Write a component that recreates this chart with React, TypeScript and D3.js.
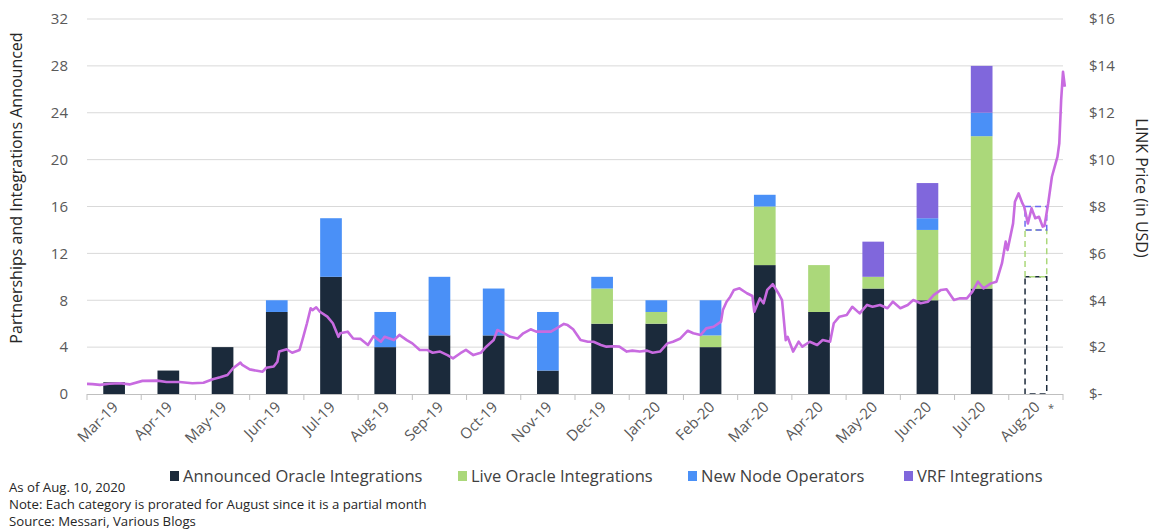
import React, {useRef, useEffect} from 'react'
import * as d3 from 'd3'

const months = [
  'Mar-19', 'Apr-19', 'May-19', 'Jun-19', 'Jul-19', 'Aug-19', 'Sep-19', 'Oct-19', 'Nov-19',
  'Dec-19', 'Jan-20', 'Feb-20', 'Mar-20', 'Apr-20', 'May-20', 'Jun-20', 'Jul-20', 'Aug-20'
]
const announced = [1, 2, 4, 7, 10, 4, 5, 5, 2, 6, 6, 4, 11, 7, 9, 8, 9, 10]
const liveOracle = [0, 0, 0, 0, 0, 0, 0, 0, 0, 3, 1, 1, 5, 4, 1, 6, 13, 4]
const nodeOperators = [0, 0, 0, 1, 5, 3, 5, 4, 5, 1, 1, 3, 1, 0, 0, 1, 2, 2]
const vrfIntegrations = [0, 0, 0, 0, 0, 0, 0, 0, 0, 0, 0, 0, 0, 0, 3, 3, 4, 0]
const projectedMonth = 'Aug-20'

const leftTicks = [0, 4, 8, 12, 16, 20, 24, 28, 32]
const rightTicks = [0, 2, 4, 6, 8, 10, 12, 14, 16]

// LINK price, days since 1 Mar 2019 -> USD
const priceDay = [
  0, 3, 7, 12, 18, 23, 30, 38, 43, 50, 57, 63, 68, 72, 76, 79, 83, 84, 88, 92, 95, 97, 101, 103,
  104, 108, 111, 115, 117, 119, 121, 122, 124, 126, 130, 133, 136, 137, 141, 144, 148, 152, 155,
  159, 161, 166, 169, 173, 176, 180, 184, 187, 191, 195, 198, 202, 205, 209, 213, 216, 220, 222,
  225, 229, 233, 236, 240, 243, 247, 251, 254, 258, 260, 263, 267, 271, 274, 278, 281, 285, 288,
  292, 295, 299, 303, 306, 310, 314, 317, 321, 325, 328, 332, 335, 339, 343, 344, 346, 348, 350,
  353, 357, 360, 361, 364, 366, 368, 371, 374, 376, 378, 379, 382, 385, 387, 391, 395, 398, 402,
  404, 407, 411, 414, 418, 422, 425, 429, 433, 436, 440, 444, 447, 451, 455, 458, 462, 465, 469,
  472, 476, 479, 482, 485, 489, 492, 495, 497, 498, 501, 502, 504, 506, 507, 509, 511, 513, 515,
  517, 518, 520, 522, 524, 525, 526, 527, 528, 529
]
const priceUsd = [
  0.43, 0.42, 0.39, 0.44, 0.46, 0.41, 0.56, 0.57, 0.51, 0.51, 0.46, 0.48, 0.63, 0.71, 0.81, 1.1,
  1.34, 1.24, 1.05, 0.99, 0.95, 1.12, 1.17, 1.38, 1.81, 1.91, 1.76, 1.88, 2.44, 3.02, 3.66, 3.58,
  3.7, 3.51, 3.3, 3.02, 2.44, 2.59, 2.66, 2.37, 2.35, 2.09, 2.47, 2.23, 2.44, 2.3, 2.52, 2.3,
  2.16, 1.88, 1.88, 1.76, 1.81, 1.66, 1.52, 1.74, 1.88, 1.66, 1.76, 2.02, 2.3, 2.73, 2.62, 2.44,
  2.37, 2.59, 2.76, 2.66, 2.66, 2.66, 2.8, 2.99, 2.94, 2.76, 2.3, 2.23, 2.23, 2.09, 2.02, 2.04,
  2.02, 1.81, 1.85, 1.81, 1.85, 1.76, 1.81, 2.16, 2.23, 2.37, 2.7, 2.59, 2.52, 2.8, 2.87, 3.09,
  3.58, 3.94, 4.15, 4.44, 4.51, 4.3, 4.18, 3.51, 4.08, 3.87, 4.44, 4.69, 4.3, 4.01, 2.3, 2.44,
  1.81, 2.23, 2.02, 2.23, 2.09, 2.3, 2.23, 3.02, 3.3, 3.37, 3.72, 3.44, 3.8, 3.72, 3.8, 3.66,
  3.94, 3.66, 3.8, 4.01, 3.87, 3.94, 4.22, 4.44, 4.47, 4.01, 4.08, 4.08, 4.37, 4.79, 4.51, 4.72,
  4.79, 5.58, 6.5, 6.14, 7.28, 8.2, 8.56, 8.14, 7.99, 7.28, 7.92, 7.5, 7.56, 7.14, 7.18, 8.14,
  9.27, 9.84, 10.12, 10.7, 12.54, 13.75, 13.11
]

const seriesKeys = ['announced', 'live', 'node', 'vrf']
const seriesNames = ['Announced Oracle Integrations', 'Live Oracle Integrations', 'New Node Operators', 'VRF Integrations']
const seriesColors = ['#1b2a3b', '#abd87a', '#4a90f7', '#8067dc']

const notes = [
  'As of Aug. 10, 2020',
  'Note: Each category is prorated for August since it is a partial month',
  'Source: Messari, Various Blogs'
]

const FONT = '"Open Sans", "DejaVu Sans", sans-serif'

function PartnershipsChart() {
  const svgRef = useRef(null)

  useEffect(() => {
    const svg = d3.select(svgRef.current)
    svg.selectAll('*').remove()

    const left = 87
    const right = 1063
    const top = 19
    const bottom = 394

    const x = d3.scaleBand().domain(months).range([left, right]).paddingInner(0.6).paddingOuter(0.3)
    const yLeft = d3.scaleLinear().domain([0, 32]).range([bottom, top])
    const yRight = d3.scaleLinear().domain([0, 16]).range([bottom, top])
    const xDay = d3.scaleLinear().domain([0, 528]).range([left, right])

    // gridlines
    svg
      .append('g')
      .selectAll('line')
      .data(leftTicks.filter(t => t > 0))
      .enter()
      .append('line')
      .attr('x1', left)
      .attr('x2', right)
      .attr('y1', d => yLeft(d))
      .attr('y2', d => yLeft(d))
      .attr('stroke', '#d9d9d9')
      .attr('stroke-width', 1)

    // stacked bars
    const rows = months.map((m, i) => ({
      month: m,
      announced: announced[i],
      live: liveOracle[i],
      node: nodeOperators[i],
      vrf: vrfIntegrations[i]
    }))
    const stacked = d3.stack().keys(seriesKeys)(rows)

    stacked.forEach((layer, k) => {
      const g = svg.append('g')
      layer.forEach(seg => {
        if (seg[1] - seg[0] <= 0) return
        const month = seg.data.month
        const rect = g
          .append('rect')
          .attr('x', x(month))
          .attr('width', x.bandwidth())
          .attr('y', yLeft(seg[1]))
          .attr('height', yLeft(seg[0]) - yLeft(seg[1]))
        if (month === projectedMonth) {
          rect
            .attr('fill', 'none')
            .attr('stroke', k === 2 ? '#6a6af0' : seriesColors[k])
            .attr('stroke-width', 1.5)
            .attr('stroke-dasharray', '6,4')
        } else {
          rect.attr('fill', seriesColors[k])
        }
      })
    })

    // x axis line + ticks at band edges
    svg
      .append('line')
      .attr('x1', left)
      .attr('x2', right)
      .attr('y1', bottom + 0.5)
      .attr('y2', bottom + 0.5)
      .attr('stroke', '#bfbfbf')
    const edgeOffset = (x.step() - x.bandwidth()) / 2
    const edges = months.map(m => x(m) - edgeOffset).concat([right])
    svg
      .append('g')
      .selectAll('line')
      .data(edges)
      .enter()
      .append('line')
      .attr('x1', d => d)
      .attr('x2', d => d)
      .attr('y1', bottom)
      .attr('y2', bottom + 6)
      .attr('stroke', '#bfbfbf')

    // price line
    const pricePoints = priceDay.map((d, i) => ({day: d, price: priceUsd[i]}))
    const priceLine = d3
      .line()
      .curve(d3.curveLinear)
      .x(d => xDay(d.day))
      .y(d => yRight(d.price))
    svg
      .append('path')
      .datum(pricePoints)
      .attr('d', priceLine)
      .attr('fill', 'none')
      .attr('stroke', '#c86be0')
      .attr('stroke-width', 2.6)
      .attr('stroke-linejoin', 'round')

    // left axis labels
    svg
      .append('g')
      .selectAll('text')
      .data(leftTicks)
      .enter()
      .append('text')
      .attr('x', 68)
      .attr('y', d => yLeft(d))
      .attr('dy', '0.35em')
      .attr('text-anchor', 'end')
      .attr('fill', '#595959')
      .style('font-family', FONT)
      .style('font-size', '15px')
      .text(d => d)

    // right axis labels
    svg
      .append('g')
      .selectAll('text')
      .data(rightTicks)
      .enter()
      .append('text')
      .attr('x', 1089)
      .attr('y', d => yRight(d))
      .attr('dy', '0.35em')
      .attr('fill', '#595959')
      .style('font-family', FONT)
      .style('font-size', '15px')
      .text(d => (d === 0 ? '$-' : `$${d}`))

    // month labels
    svg
      .append('g')
      .selectAll('text')
      .data(months)
      .enter()
      .append('text')
      .attr('transform', d => `translate(${x(d) + x.bandwidth() / 2 + 5}, ${bottom + 14}) rotate(-45)`)
      .attr('text-anchor', 'end')
      .attr('fill', '#595959')
      .style('font-family', FONT)
      .style('font-size', '15px')
      .text(d => d)
    svg
      .append('text')
      .attr('x', x(projectedMonth) + x.bandwidth() / 2 + 12)
      .attr('y', bottom + 18)
      .attr('fill', '#595959')
      .style('font-family', FONT)
      .style('font-size', '11px')
      .text('*')

    // axis titles
    svg
      .append('text')
      .attr('transform', `translate(22, 188) rotate(-90)`)
      .attr('text-anchor', 'middle')
      .attr('fill', '#262626')
      .style('font-family', FONT)
      .style('font-size', '16px')
      .text('Partnerships and Integrations Announced')
    svg
      .append('text')
      .attr('transform', `translate(1136, 188) rotate(90)`)
      .attr('text-anchor', 'middle')
      .attr('fill', '#262626')
      .style('font-family', FONT)
      .style('font-size', '16px')
      .text('LINK Price (in USD)')

    // legend
    const legendX = [170, 458, 688, 904]
    seriesNames.forEach((name, i) => {
      svg
        .append('rect')
        .attr('x', legendX[i])
        .attr('y', 471)
        .attr('width', 9)
        .attr('height', 10)
        .attr('fill', seriesColors[i])
      svg
        .append('text')
        .attr('x', legendX[i] + 13)
        .attr('y', 476)
        .attr('dy', '0.35em')
        .attr('fill', '#404040')
        .style('font-family', FONT)
        .style('font-size', '16.5px')
        .text(name)
    })

    // notes
    svg
      .append('g')
      .selectAll('text')
      .data(notes)
      .enter()
      .append('text')
      .attr('x', 9)
      .attr('y', (d, i) => 492 + i * 17)
      .attr('fill', '#262626')
      .style('font-family', FONT)
      .style('font-size', '13.2px')
      .text(d => d)
  }, [])

  return (
    <svg
      ref={svgRef}
      width={1164}
      height={529}
      style={{position: 'absolute', left: 0, top: 0, background: '#ffffff'}}
    />
  )
}

export default function App() {
  return <PartnershipsChart />
}
